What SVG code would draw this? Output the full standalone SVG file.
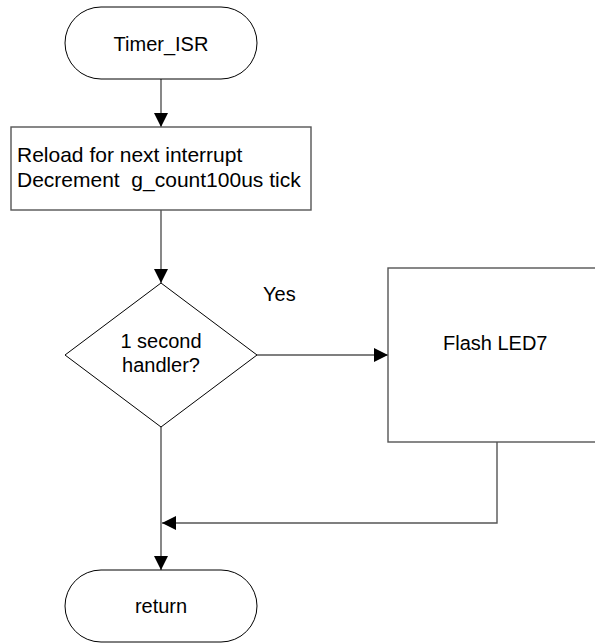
<svg xmlns="http://www.w3.org/2000/svg" width="595" height="643" viewBox="0 0 595 643">
<style>
.t{font-family:"Liberation Sans",Arial,sans-serif;font-size:20px;fill:#000}
.b{font-size:21px}
.m{text-anchor:middle}
.term,.dec{fill:#fff;stroke:#000;stroke-width:1}
.box{fill:#fff;stroke:#555;stroke-width:1.4}
.c{fill:none;stroke:#555;stroke-width:1.4}
</style>
<defs>
<marker id="ah" viewBox="0 0 14 14" refX="14" refY="7" markerWidth="14" markerHeight="14" markerUnits="userSpaceOnUse" orient="auto">
<path d="M0,0 L14,7 L0,14 Z" fill="#000"/>
</marker>
</defs>
<g id="connectors">
<path class="c" d="M161,79 V127" marker-end="url(#ah)"/>
<path class="c" d="M161,210 V283" marker-end="url(#ah)"/>
<path class="c" d="M257,355 H388" marker-end="url(#ah)"/>
<path class="c" d="M161,427 V570" marker-end="url(#ah)"/>
<path class="c" d="M497,442 V523 H162" marker-end="url(#ah)"/>
</g>
<g id="start">
<rect class="term" x="65" y="7" width="192" height="72" rx="36" ry="36"/>
<text class="t m" x="161" y="51">Timer_ISR</text>
</g>
<g id="reload">
<rect class="box" x="11" y="127" width="300" height="83"/>
<text class="t b" x="17" y="162">Reload for next interrupt</text>
<text class="t b" x="17" y="187" xml:space="preserve">Decrement &#160;g_count100us tick</text>
</g>
<g id="decision">
<polygon class="dec" points="161,283 257,355 161,427 65,355"/>
<text class="t m" x="161" y="348">1 second</text>
<text class="t m" x="161" y="372">handler?</text>
</g>
<g id="yes-label">
<text class="t" x="263" y="301">Yes</text>
</g>
<g id="flash">
<rect class="box" x="388" y="268" width="220" height="174"/>
<text class="t" x="443" y="350">Flash LED7</text>
</g>
<g id="end">
<rect class="term" x="65" y="570" width="192" height="72" rx="36" ry="36"/>
<text class="t m" x="161" y="613">return</text>
</g>
</svg>
